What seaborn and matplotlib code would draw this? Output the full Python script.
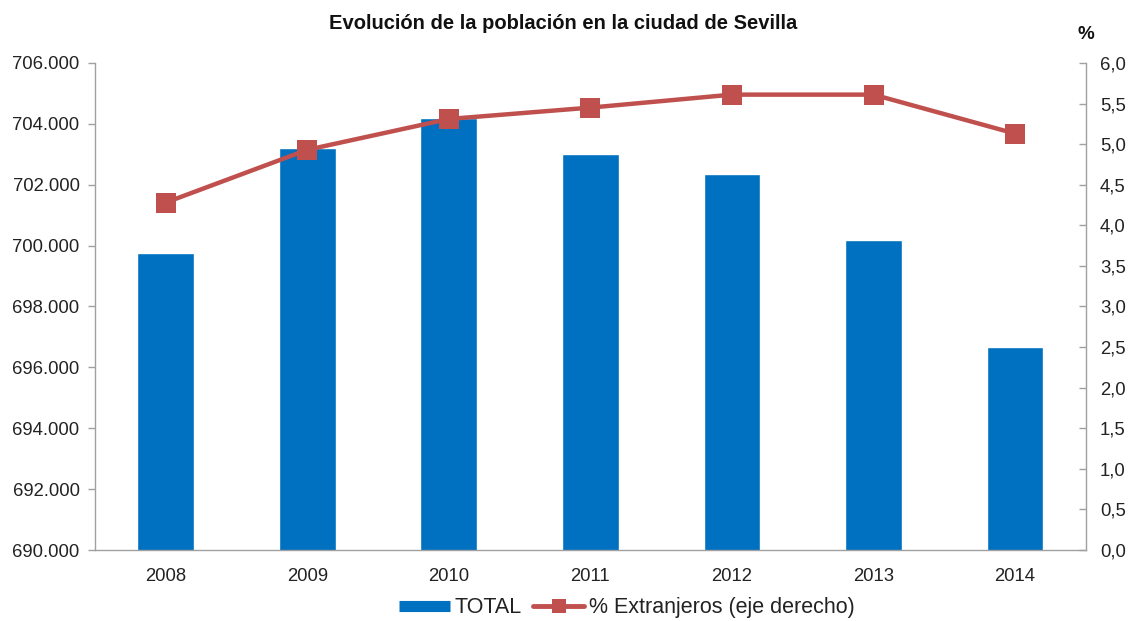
import numpy as np
import pandas as pd
import matplotlib
matplotlib.use("Agg")
import matplotlib.pyplot as plt
from matplotlib.lines import Line2D
import seaborn as sns

years = ["2008", "2009", "2010", "2011", "2012", "2013", "2014"]
total = [699759, 703206, 704198, 703021, 702355, 700169, 696676]
pct_extranjeros = [4.28, 4.93, 5.31, 5.45, 5.61, 5.61, 5.13]
left_ticks = [690000, 692000, 694000, 696000, 698000, 700000, 702000, 704000, 706000]
left_labels = ["690.000", "692.000", "694.000", "696.000", "698.000", "700.000", "702.000", "704.000", "706.000"]
right_ticks = [0.0, 0.5, 1.0, 1.5, 2.0, 2.5, 3.0, 3.5, 4.0, 4.5, 5.0, 5.5, 6.0]
right_labels = ["0,0", "0,5", "1,0", "1,5", "2,0", "2,5", "3,0", "3,5", "4,0", "4,5", "5,0", "5,5", "6,0"]
title = "Evolución de la población en la ciudad de Sevilla"
legend_labels = ["TOTAL", "% Extranjeros (eje derecho)"]

BLUE = "#0070C0"
RED = "#C0504D"
GRAY = "#A0A0A0"
TXT = "#222222"

sns.set_style("white")
plt.rcParams["font.family"] = ["Liberation Sans", "DejaVu Sans"]

fig = plt.figure(figsize=(11.29, 6.21), dpi=100)
ax = fig.add_axes([0.084, 0.1143, 0.8778, 0.7843])

df = pd.DataFrame({"year": years, "total": total})
sns.barplot(data=df, x="year", y="total", color=BLUE, saturation=1, width=0.4, ax=ax)
ax.set_ylim(690000, 706000)
ax.set_xlim(-0.5, len(years) - 0.5)
ax.set_yticks(left_ticks)
ax.set_yticklabels(left_labels, fontsize=13.3, color=TXT)
ax.set_xticks(range(len(years)))
ax.set_xticklabels(years, fontsize=13.3, color=TXT)
ax.set_xticks(np.arange(-0.5, len(years), 1.0), minor=True)
ax.tick_params(axis="x", which="major", length=0, pad=13)
ax.tick_params(axis="x", which="minor", length=6, color=GRAY, width=1, direction="out")
ax.tick_params(axis="y", length=5, color=GRAY, width=1, direction="out", pad=6)
ax.set_xlabel("")
ax.set_ylabel("")
for s in ["top", "right"]:
    ax.spines[s].set_visible(False)
for s in ["left", "bottom"]:
    ax.spines[s].set_color(GRAY)
    ax.spines[s].set_linewidth(1)

ax2 = ax.twinx()
sns.lineplot(x=np.arange(len(years)), y=pct_extranjeros, ax=ax2, color=RED,
             linewidth=3.2, marker="s", markersize=15, markeredgewidth=0, markerfacecolor=RED)
ax2.set_ylim(0, 6)
ax2.set_yticks(right_ticks)
ax2.set_yticklabels(right_labels, fontsize=13.3, color=TXT)
ax2.tick_params(axis="y", length=5, color=GRAY, width=1, direction="in", pad=10)
for s in ["top", "left", "bottom"]:
    ax2.spines[s].set_visible(False)
ax2.spines["right"].set_color(GRAY)
ax2.spines["right"].set_linewidth(1)
ax2.set_xlim(-0.5, len(years) - 0.5)

fig.text(0.499, 0.962, title, ha="center", va="center", fontsize=14.5, fontweight="bold", color="#111111")
fig.text(0.962, 0.945, "%", ha="center", va="center", fontsize=13.5, fontweight="bold", color="#111111")

handles = [
    Line2D([0], [0], color=BLUE, linewidth=8, solid_capstyle="butt"),
    Line2D([0], [0], color=RED, linewidth=3.5, marker="s", markersize=10, markeredgewidth=0),
]
fig.legend(handles, legend_labels, loc="center", bbox_to_anchor=(0.555, 0.021), ncol=2,
           frameon=False, fontsize=15.5, handlelength=2.4, columnspacing=0.5, handletextpad=0.2,
           labelcolor=TXT)

fig.savefig("out.png", dpi=100)
